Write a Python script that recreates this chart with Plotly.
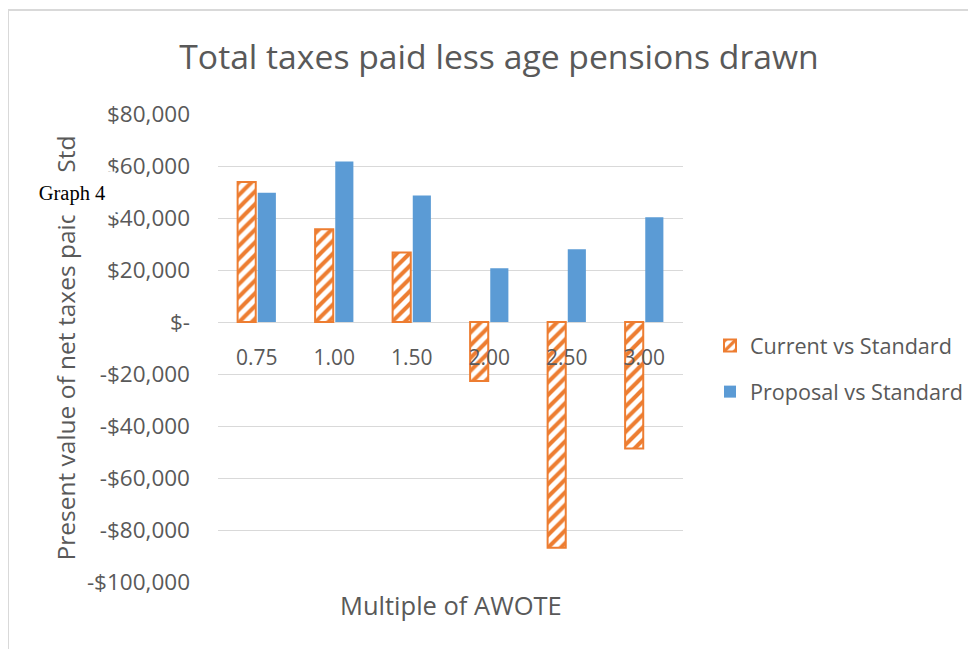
import plotly.graph_objects as go

categories = ["0.75", "1.00", "1.50", "2.00", "2.50", "3.00"]
current_vs_standard = [53800, 35700, 26700, -22700, -86800, -48700]
proposal_vs_standard = [49700, 61700, 48700, 20700, 28000, 40300]
y_tickvals = [80000, 60000, 40000, 20000, 0, -20000, -40000, -60000, -80000, -100000]
y_ticktext = ["$80,000", "$60,000", "$40,000", "$20,000", "$-", "-$20,000",
              "-$40,000", "-$60,000", "-$80,000", "-$100,000"]
title_text = "Total taxes paid less age pensions drawn"
y_title = "Present value of net taxes paid vs Std"
x_title = "Multiple of AWOTE"
note_text = "Graph 4"

OFF = 8  # page body margin
W, H = 976 - OFF, 649 - OFF
L, R, T, B = 218 - OFF, 976 - 683, 114 - OFF, 649 - 582
PW, PH = W - L - R, H - T - B
YMIN, YMAX = -100000, 80000

def px_x(p):
    return (p - OFF - L) / PW

def px_y(p):
    return (H - B - (p - OFF)) / PH

FONT = "Open Sans"
GREY = "#595959"
ORANGE = "#ED7D31"
BLUE = "#5B9BD5"

fig = go.Figure()
fig.add_trace(go.Bar(
    x=categories, y=current_vs_standard, name="Current vs Standard",
    legendgroup="a",
    marker=dict(color="white", line=dict(color=ORANGE, width=2),
                pattern=dict(shape="/", fgcolor=ORANGE, bgcolor="white",
                             size=9, solidity=0.45, fillmode="replace")),
))
fig.add_trace(go.Bar(
    x=categories, y=proposal_vs_standard, name="Proposal vs Standard",
    legendgroup="b",
    marker=dict(color=BLUE, line=dict(width=0)),
))

zero_pos = (0 - YMIN) / (YMAX - YMIN)

fig.update_layout(
    width=W, height=H,
    margin=dict(l=L, r=R, t=T, b=B, autoexpand=False),
    paper_bgcolor="white", plot_bgcolor="white",
    barmode="group", bargap=0.48, bargroupgap=0.1,
    font=dict(family=FONT, color=GREY, size=20),
    title=dict(text=title_text, x=px_x(499), xref="paper", xanchor="center",
               y=1 - (57 - OFF) / H, yanchor="middle", yref="container",
               font=dict(size=33.7, color=GREY, family=FONT)),
    showlegend=True,
    legend=dict(x=px_x(710), y=px_y(325), xanchor="left", yanchor="top",
                font=dict(size=21.6, color=GREY, family=FONT),
                tracegroupgap=15, itemwidth=30, bgcolor="rgba(0,0,0,0)"),
    xaxis=dict(type="category", showgrid=False, showline=False, zeroline=False,
               anchor="free", position=zero_pos, ticks="", ticklabelstandoff=21,
               tickfont=dict(size=21, color=GREY)),
    yaxis=dict(range=[YMIN, YMAX], tickvals=y_tickvals, ticktext=y_ticktext,
               showgrid=True, gridcolor="#D9D9D9", gridwidth=1,
               zeroline=True, zerolinecolor="#D9D9D9", zerolinewidth=1,
               showline=False, ticks="", ticklabelstandoff=27,
               tickfont=dict(size=22.5, color=GREY),
               title=dict(text=y_title, font=dict(size=24.5, color=GREY), standoff=4)),
)

fig.add_annotation(text=x_title, xref="paper", yref="paper",
                   x=0.5, y=px_y(605), xanchor="center", yanchor="middle",
                   showarrow=False, font=dict(size=25.5, color=GREY, family=FONT))

fig.add_annotation(text=note_text, xref="paper", yref="paper",
                   x=px_x(72), y=px_y(193), xanchor="center", yanchor="middle",
                   showarrow=False, width=84, height=41, bgcolor="white",
                   font=dict(size=20.5, color="black", family="Liberation Serif"))

# chart border (top and left edges)
fig.add_shape(type="line", xref="paper", yref="paper",
              x0=px_x(8), x1=px_x(976 + OFF), y0=px_y(10), y1=px_y(10),
              line=dict(color="#D9D9D9", width=2))
fig.add_shape(type="line", xref="paper", yref="paper",
              x0=px_x(8), x1=px_x(8), y0=px_y(10), y1=px_y(649 + OFF),
              line=dict(color="#D9D9D9", width=2))

fig.write_html("out.html")
